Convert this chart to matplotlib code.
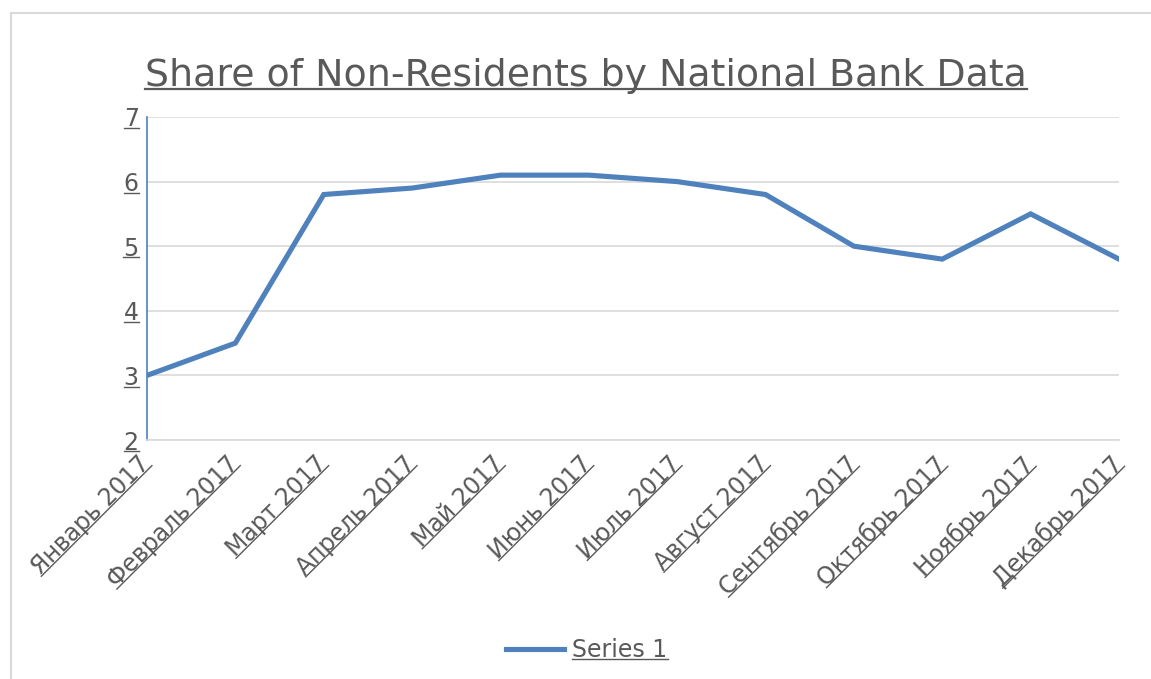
import numpy as np
import matplotlib
matplotlib.use('Agg')
import matplotlib.pyplot as plt
from matplotlib.lines import Line2D
from matplotlib.patches import Rectangle
from matplotlib.transforms import ScaledTranslation

months = ['Январь 2017', 'Февраль 2017', 'Март 2017', 'Апрель 2017', 'Май 2017',
          'Июнь 2017', 'Июль 2017', 'Август 2017', 'Сентябрь 2017', 'Октябрь 2017',
          'Ноябрь 2017', 'Декабрь 2017']
share = [3.0, 3.5, 5.8, 5.9, 6.1, 6.1, 6.0, 5.8, 5.0, 4.8, 5.5, 4.8]
yticks = [2, 3, 4, 5, 6, 7]

txt = '#595959'
blue = '#4f81bd'
grid = '#d9d9d9'

plt.rcParams['font.family'] = ['DejaVu Sans']

fig = plt.figure(figsize=(11.51, 6.79), dpi=100)
W, H = 1151, 679

# chart border
fig.add_artist(Rectangle((11 / W, -0.05), 1.1, 1 - 13 / H + 0.05, transform=fig.transFigure,
                         fill=False, edgecolor=grid, lw=1.5))

ax = fig.add_axes([147 / W, 1 - 440 / H, (1119 - 147) / W, (440 - 117) / H])
x = np.arange(len(months))
ax.plot(x, share, color=blue, lw=3.7, solid_joinstyle='miter', label='Series 1')

ax.set_xlim(0, len(months) - 1)
ax.set_ylim(2, 7)
ax.set_yticks(yticks)
ax.set_xticks(x)
ax.set_xticklabels(months, rotation=45, ha='right', rotation_mode='anchor')
ax.tick_params(axis='both', length=0, labelsize=17, labelcolor=txt)
ax.tick_params(axis='y', pad=6)
ax.tick_params(axis='x', pad=7)
ax.grid(axis='y', color=grid, lw=1.2)
ax.set_axisbelow(True)
for s in ['top', 'right']:
    ax.spines[s].set_visible(False)
ax.spines['left'].set_color(blue)
ax.spines['left'].set_linewidth(1.2)
ax.spines['bottom'].set_color(grid)
ax.spines['bottom'].set_linewidth(1.2)

# nudge the rotated month labels a little left/down
shift = ScaledTranslation(-9 / 100, -2 / 100, fig.dpi_scale_trans)
for t in ax.get_xticklabels():
    t.set_transform(t.get_transform() + shift)

title = fig.text(586 / W, 1 - 86 / H, 'Share of Non-Residents by National Bank Data',
                 ha='center', va='baseline', fontsize=27.3, color=txt)

leg = fig.legend(loc='center', bbox_to_anchor=(587 / W, 1 - 650 / H), frameon=False,
                 fontsize=17, handlelength=2.45, handletextpad=0.35, labelcolor=txt)

fig.canvas.draw()
r = fig.canvas.get_renderer()


def underline(t, lw=1.0):
    angle = t.get_rotation()
    rot = np.deg2rad(angle)
    t.set_rotation(0)
    bb0 = t.get_window_extent(r)
    w, h = bb0.width, bb0.height
    t.set_rotation(angle)
    bb = t.get_window_extent(r)
    if rot == 0:
        y = bb.y0 + 0.14 * h
        xs, ys = [bb.x0, bb.x1], [y, y]
    else:
        c, s = np.cos(rot), np.sin(rot)
        ax_, ay_ = bb.x1 - h * s, bb.y1
        d = 0.82 * h
        p = np.array([ax_ + d * s, ay_ - d * c])
        q = p - w * np.array([c, s])
        xs, ys = [p[0], q[0]], [p[1], q[1]]
    fig.add_artist(Line2D(np.array(xs) / W, np.array(ys) / H, transform=fig.transFigure,
                          color=txt, lw=lw))


underline(title, 1.6)
for t in ax.get_xticklabels() + ax.get_yticklabels():
    underline(t, 1.0)
for t in leg.get_texts():
    underline(t, 1.0)

fig.savefig('out.png', dpi=100)
